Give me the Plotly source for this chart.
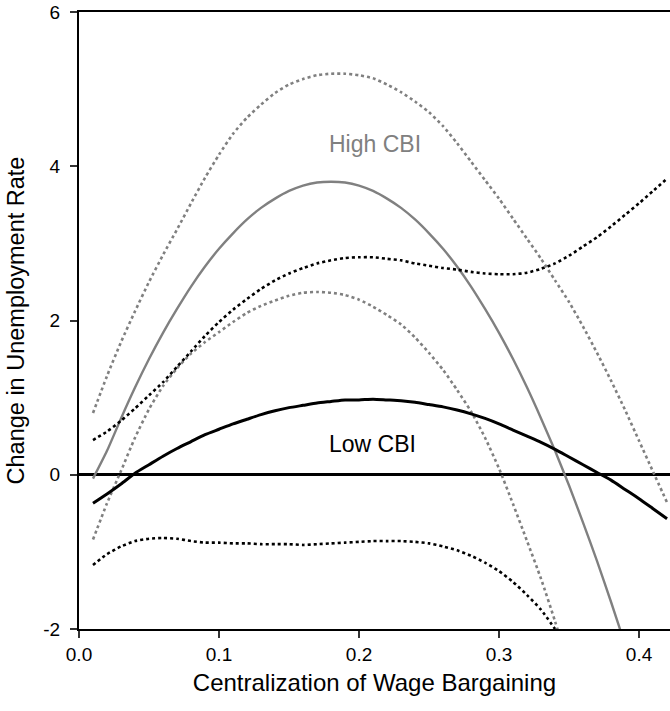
import plotly.graph_objects as go

x_vals = [0.01, 0.02, 0.03, 0.04, 0.05, 0.06, 0.07, 0.08, 0.09, 0.10,
          0.11, 0.12, 0.13, 0.14, 0.15, 0.16, 0.17, 0.18, 0.19, 0.20,
          0.21, 0.22, 0.23, 0.24, 0.25, 0.26, 0.27, 0.28, 0.29, 0.30,
          0.31, 0.32, 0.33, 0.34, 0.35, 0.36, 0.37, 0.38, 0.39, 0.40,
          0.41, 0.42]

high_mean = [-0.05, 0.31, 0.73, 1.13, 1.50, 1.84, 2.15, 2.44, 2.70, 2.93,
             3.13, 3.31, 3.46, 3.58, 3.68, 3.75, 3.79, 3.80, 3.79, 3.75,
             3.68, 3.58, 3.46, 3.31, 3.13, 2.93, 2.70, 2.44, 2.15, 1.84,
             1.50, 1.13, 0.73, 0.31, -0.14, -0.62, -1.12, -1.65, -2.20]

high_upper = [0.80, 1.28, 1.72, 2.12, 2.50, 2.85, 3.18, 3.52, 3.85, 4.15,
              4.42, 4.63, 4.80, 4.95, 5.06, 5.13, 5.18, 5.20, 5.20, 5.18,
              5.14, 5.06, 4.96, 4.84, 4.70, 4.52, 4.30, 4.06, 3.82, 3.58,
              3.32, 3.06, 2.80, 2.52, 2.24, 1.92, 1.58, 1.22, 0.84, 0.44,
              0.04, -0.36]

high_lower = [-0.84, -0.37, 0.05, 0.48, 0.85, 1.15, 1.38, 1.57, 1.72, 1.85,
              1.98, 2.10, 2.19, 2.26, 2.32, 2.36, 2.37, 2.36, 2.33, 2.27,
              2.18, 2.07, 1.95, 1.78, 1.58, 1.36, 1.10, 0.82, 0.48, 0.08,
              -0.38, -0.86, -1.35, -1.90, -2.50]

low_mean = [-0.37, -0.25, -0.12, 0.02, 0.13, 0.24, 0.34, 0.43, 0.52, 0.59,
            0.66, 0.72, 0.78, 0.83, 0.87, 0.90, 0.93, 0.95, 0.97, 0.97,
            0.98, 0.97, 0.96, 0.94, 0.91, 0.88, 0.84, 0.79, 0.73, 0.66,
            0.58, 0.50, 0.42, 0.33, 0.23, 0.13, 0.03, -0.07, -0.19, -0.31,
            -0.44, -0.57]

low_upper = [0.45, 0.56, 0.70, 0.86, 1.03, 1.20, 1.40, 1.60, 1.80, 1.98,
             2.14, 2.28, 2.41, 2.52, 2.61, 2.68, 2.74, 2.78, 2.81, 2.82,
             2.82, 2.80, 2.78, 2.74, 2.71, 2.68, 2.66, 2.63, 2.61, 2.60,
             2.60, 2.62, 2.67, 2.74, 2.84, 2.96, 3.08, 3.22, 3.37, 3.52,
             3.68, 3.84]

low_lower = [-1.17, -1.03, -0.93, -0.86, -0.83, -0.82, -0.83, -0.86, -0.88, -0.88,
             -0.89, -0.89, -0.90, -0.90, -0.90, -0.91, -0.90, -0.89, -0.88, -0.87,
             -0.86, -0.86, -0.86, -0.87, -0.89, -0.93, -0.98, -1.05, -1.14, -1.25,
             -1.39, -1.56, -1.75, -2.00]

x_ticks = [0.0, 0.1, 0.2, 0.3, 0.4]
x_tick_labels = ["0.0", "0.1", "0.2", "0.3", "0.4"]
y_ticks = [-2, 0, 2, 4, 6]
y_tick_labels = ["-2", "0", "2", "4", "6"]

GRAY = "#808080"
BLACK = "#000000"
FONT = "Liberation Sans, Arial, sans-serif"

fig = go.Figure()

def add(xs, ys, color, width, dash):
    fig.add_trace(go.Scatter(
        x=xs[:len(ys)], y=ys, mode="lines",
        line=dict(color=color, width=width, dash=dash, shape="spline", smoothing=0.6),
        showlegend=False, hoverinfo="skip"))

add(x_vals, high_upper, GRAY, 2.6, "3px,3px")
add(x_vals, high_lower, GRAY, 2.6, "3px,3px")
add(x_vals, high_mean, GRAY, 2.4, "solid")
add(x_vals, low_upper, BLACK, 2.6, "3px,3px")
add(x_vals, low_lower, BLACK, 2.6, "3px,3px")
add(x_vals, low_mean, BLACK, 3, "solid")

fig.add_annotation(x=0.2114, y=4.29, text="High CBI", showarrow=False,
                   font=dict(family=FONT, size=23, color=GRAY),
                   xanchor="center", yanchor="middle")
fig.add_annotation(x=0.2096, y=0.40, text="Low CBI", showarrow=False,
                   font=dict(family=FONT, size=23, color=BLACK),
                   xanchor="center", yanchor="middle")

fig.update_layout(
    width=670, height=711,
    margin=dict(l=79, r=0, t=12, b=82),
    paper_bgcolor="white", plot_bgcolor="white",
    font=dict(family=FONT, color=BLACK),
    xaxis=dict(
        range=[0, 0.4221], tickvals=x_ticks, ticktext=x_tick_labels,
        showgrid=False, zeroline=False,
        showline=True, linecolor=BLACK, linewidth=2, mirror=True,
        ticks="outside", ticklen=7, tickwidth=1.5, tickcolor="#333333",
        tickfont=dict(family=FONT, size=19, color=BLACK),
        title=dict(text="Centralization of Wage Bargaining",
                   font=dict(family=FONT, size=24, color=BLACK), standoff=10),
    ),
    yaxis=dict(
        range=[-2, 6], tickvals=y_ticks, ticktext=y_tick_labels,
        showgrid=False,
        zeroline=True, zerolinecolor=BLACK, zerolinewidth=2.5,
        showline=True, linecolor=BLACK, linewidth=2,
        ticks="outside", ticklen=7, tickwidth=1.5, tickcolor="#333333",
        tickfont=dict(family=FONT, size=19, color=BLACK),
        ticklabelstandoff=6,
        title=dict(text="Change in Unemployment Rate",
                   font=dict(family=FONT, size=23.5, color=BLACK), standoff=12),
    ),
)

fig.write_html("out.html")
